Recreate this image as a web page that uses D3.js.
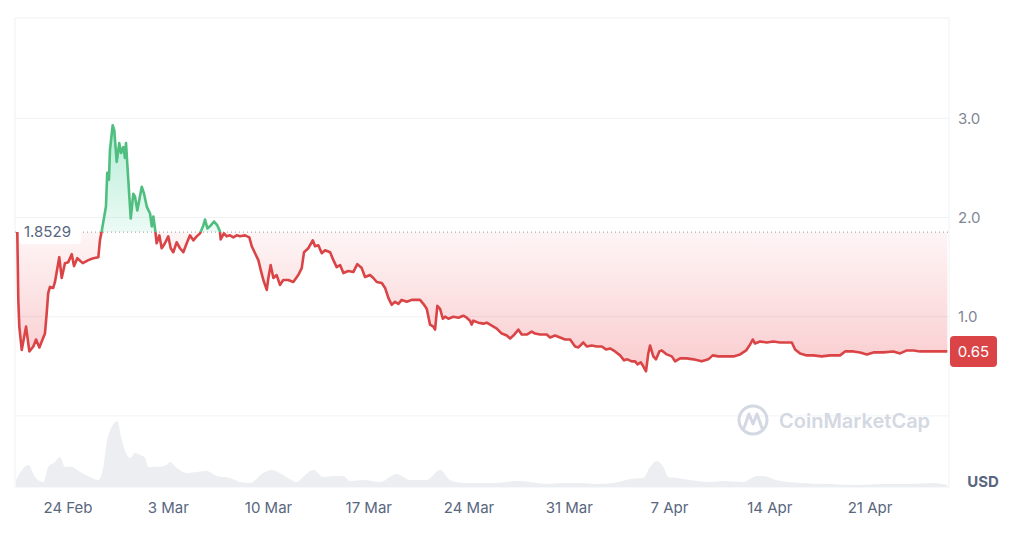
<!DOCTYPE html>
<html>
<head>
<meta charset="utf-8">
<script src="https://cdn.jsdelivr.net/npm/d3@7"></script>
<style>
  html, body { margin: 0; padding: 0; background: #ffffff; }
  svg { display: block; font-family: Inter, "Noto Sans", sans-serif; }
</style>
</head>
<body>
<svg id="chart" width="1024" height="542"></svg>
<script>
// ---- DATA (days since 2025-02-20 00:00 UTC, price in USD) ----
const priceDays = [0.46,0.53,0.60,0.77,1.07,1.30,1.58,1.77,2.00,2.39,2.51,2.62,2.74,2.97,3.09,3.39,3.56,3.79,4.02,4.26,4.42,4.65,5.03,5.42,5.77,6.12,6.23,6.35,6.65,6.74,6.86,6.93,7.12,7.23,7.40,7.58,7.70,7.86,7.98,8.05,8.21,8.38,8.56,8.68,8.84,8.98,9.15,9.31,9.50,9.73,9.85,9.96,10.10,10.19,10.38,10.54,10.77,11.00,11.17,11.35,11.59,11.82,12.05,12.29,12.52,12.75,12.99,13.22,13.45,13.57,13.73,13.97,14.20,14.43,14.61,14.66,14.89,15.08,15.31,15.54,15.78,16.01,16.36,16.66,16.83,17.06,17.29,17.46,17.64,17.88,17.99,18.15,18.34,18.57,18.80,19.03,19.38,19.73,20.08,20.32,20.48,20.78,21.09,21.25,21.48,21.72,21.95,22.30,22.53,22.76,23.00,23.23,23.57,23.92,24.20,24.51,24.74,25.09,25.32,25.56,25.91,26.14,26.37,26.60,26.84,27.07,27.30,27.65,28.00,28.35,28.58,28.81,29.05,29.28,29.51,29.63,29.79,29.98,30.17,30.33,30.56,30.91,31.26,31.60,31.84,32.07,32.19,32.30,32.65,33.00,33.24,33.59,33.94,34.29,34.64,34.87,35.10,35.45,35.68,36.03,36.38,36.61,36.96,37.43,37.66,38.01,38.36,38.71,39.06,39.41,39.64,39.98,40.22,40.57,40.92,41.27,41.57,41.85,42.20,42.55,42.83,43.06,43.36,43.60,43.76,43.99,44.17,44.36,44.52,44.64,44.87,45.06,45.29,45.46,45.81,46.16,46.39,46.74,47.21,47.67,48.25,48.71,49.02,49.41,50.00,50.46,50.93,51.35,51.63,51.81,51.97,52.32,52.79,53.25,53.72,54.19,54.54,54.77,55.12,55.59,56.05,56.63,57.21,57.91,58.26,58.84,59.31,59.78,60.24,60.93,61.63,62.10,62.57,63.03,63.50,63.97,64.43,64.89,65.40];
const prices = [1.853,1.17,0.90,0.665,0.90,0.65,0.70,0.77,0.69,0.83,1.03,1.24,1.30,1.29,1.35,1.60,1.39,1.54,1.55,1.63,1.51,1.59,1.54,1.57,1.59,1.60,1.77,1.86,2.11,2.45,2.38,2.68,2.93,2.88,2.56,2.75,2.65,2.71,2.60,2.75,2.38,1.99,2.24,2.21,2.07,2.18,2.31,2.24,2.11,2.04,1.91,2.01,1.86,1.74,1.82,1.69,1.74,1.81,1.69,1.65,1.75,1.69,1.65,1.74,1.82,1.77,1.81,1.84,1.92,1.98,1.89,1.92,1.96,1.92,1.86,1.78,1.84,1.81,1.82,1.80,1.82,1.81,1.82,1.80,1.71,1.64,1.57,1.47,1.37,1.27,1.39,1.52,1.39,1.42,1.32,1.37,1.37,1.35,1.42,1.49,1.65,1.69,1.77,1.71,1.72,1.64,1.67,1.65,1.57,1.50,1.52,1.44,1.46,1.45,1.53,1.49,1.40,1.42,1.39,1.35,1.34,1.29,1.19,1.12,1.15,1.13,1.17,1.15,1.17,1.17,1.17,1.13,1.08,0.92,0.90,0.87,1.11,1.08,0.98,1.00,0.98,1.00,0.99,1.01,0.99,0.96,0.92,0.96,0.94,0.93,0.94,0.91,0.88,0.83,0.81,0.78,0.81,0.87,0.82,0.82,0.85,0.83,0.82,0.82,0.79,0.81,0.79,0.77,0.77,0.70,0.69,0.74,0.70,0.71,0.70,0.70,0.67,0.68,0.65,0.61,0.56,0.57,0.55,0.55,0.52,0.54,0.50,0.45,0.63,0.71,0.60,0.57,0.65,0.66,0.62,0.60,0.55,0.58,0.58,0.57,0.55,0.57,0.61,0.60,0.60,0.60,0.62,0.66,0.72,0.77,0.73,0.75,0.74,0.75,0.74,0.74,0.74,0.67,0.63,0.61,0.61,0.60,0.61,0.61,0.65,0.65,0.64,0.62,0.64,0.64,0.65,0.63,0.66,0.66,0.65,0.65,0.65,0.65,0.65];

// Volume (millions USD, approximate)
const volumeDays = [0.37,1.23,1.70,2.28,2.62,3.09,3.44,3.79,4.26,4.84,5.54,6.12,6.47,6.70,7.05,7.44,7.75,8.05,8.33,8.68,9.03,9.38,9.61,10.19,10.89,11.12,11.59,12.29,12.99,13.69,14.38,15.31,16.01,16.71,17.64,18.23,19.03,19.97,20.55,21.13,21.83,22.53,23.23,23.69,24.62,25.79,26.95,27.88,29.05,29.98,30.68,31.60,32.77,33.94,35.33,36.26,37.43,38.59,39.75,40.92,42.08,43.25,44.17,44.64,45.11,45.57,45.92,46.53,47.92,48.83,49.79,51.14,52.09,52.53,53.44,55.12,57.14,59.31,60.82,62.66,64.47,65.38];
const volumes = [7,22,10,5,20,25,30,20,20,15,10,7,20,44,60,66,47,34,29,34,32,29,20,20,22,25,19,14,15,16,11,9,5,4,14,17,12,5,12,17,10,11,11,6,7,5,13,7,7,17,7,4,4,4,6,5,3,4,4,3,4,8,9,20,26,20,10,9,6,5,6,5,11,11,7,4,3,2,3,3,4,2];

const openPrice = 1.8529;
const lastPrice = 0.65;
const yTicks = [1, 2, 3];
const currency = "USD";
const watermark = "CoinMarketCap";

// ---- SETUP ----
const svg = d3.select("#chart");
const DAY = 86400000;
const t0 = Date.UTC(2025, 1, 20);
const toDate = d => new Date(t0 + d * DAY);

const frame = {left: 15, right: 949, top: 18, bottom: 487};

const x = d3.scaleUtc()
  .domain([new Date(Date.UTC(2025, 1, 24)), new Date(Date.UTC(2025, 3, 21))])
  .range([68, 870]);
const y = d3.scaleLinear().domain([0, 4]).range([415.9, 19.1]);
const yVol = d3.scaleLinear().domain([0, 70]).range([frame.bottom, frame.bottom - 70]);

const priceData = priceDays.map((d, i) => ({t: toDate(d), v: prices[i]}));
const volData = volumeDays.map((d, i) => ({t: toDate(d), v: volumes[i]}));

const RED = "#da4446";
const GREEN = "#4fbe7f";
const GRID = "#eff2f5";
const TEXT = "#58667e";

// defs
const defs = svg.append("defs");
const yBase = y(openPrice);
defs.append("clipPath").attr("id", "clipAbove")
  .append("rect").attr("x", 0).attr("y", 0).attr("width", 1024).attr("height", yBase);
defs.append("clipPath").attr("id", "clipBelow")
  .append("rect").attr("x", 0).attr("y", yBase).attr("width", 1024).attr("height", 542 - yBase);

const gRed = defs.append("linearGradient").attr("id", "gradRed")
  .attr("gradientUnits", "userSpaceOnUse")
  .attr("x1", 0).attr("x2", 0).attr("y1", yBase).attr("y2", y(d3.min(prices)));
gRed.append("stop").attr("offset", 0).attr("stop-color", "#ea3943").attr("stop-opacity", 0.05);
gRed.append("stop").attr("offset", 1).attr("stop-color", "#ea3943").attr("stop-opacity", 0.26);

const gGreen = defs.append("linearGradient").attr("id", "gradGreen")
  .attr("gradientUnits", "userSpaceOnUse")
  .attr("x1", 0).attr("x2", 0).attr("y1", y(d3.max(prices))).attr("y2", yBase);
gGreen.append("stop").attr("offset", 0).attr("stop-color", "#16c784").attr("stop-opacity", 0.32);
gGreen.append("stop").attr("offset", 1).attr("stop-color", "#16c784").attr("stop-opacity", 0.08);

// frame & grid
svg.append("rect")
  .attr("x", frame.left).attr("y", frame.top)
  .attr("width", frame.right - frame.left).attr("height", frame.bottom - frame.top)
  .attr("fill", "none").attr("stroke", GRID).attr("stroke-width", 1);

svg.append("g").selectAll("line").data([0].concat(yTicks)).join("line")
  .attr("x1", frame.left).attr("x2", frame.right)
  .attr("y1", d => y(d)).attr("y2", d => y(d))
  .attr("stroke", GRID).attr("stroke-width", 1);

// y labels
svg.append("g").selectAll("text").data(yTicks).join("text")
  .attr("x", 958).attr("y", d => y(d)).attr("dy", "0.35em")
  .attr("font-size", 15).attr("fill", "#7f8796")
  .text(d => d3.format(".1f")(d));

// volume
svg.append("path").datum(volData)
  .attr("d", d3.area().x(d => x(d.t)).y0(frame.bottom).y1(d => yVol(d.v)).curve(d3.curveMonotoneX))
  .attr("fill", "#eceef2");

// watermark
const wm = svg.append("g");
wm.append("circle").attr("cx", 753).attr("cy", 420).attr("r", 14)
  .attr("fill", "none").attr("stroke", "#d3d8e2").attr("stroke-width", 3);
wm.append("path").attr("d", "M744,428 L749,414 L753,424 L757,414 L762,428")
  .attr("fill", "none").attr("stroke", "#d3d8e2").attr("stroke-width", 3)
  .attr("stroke-linejoin", "round").attr("stroke-linecap", "round");
wm.append("text").attr("x", 779).attr("y", 428)
  .attr("font-size", 20).attr("font-weight", 600).attr("fill", "#d3d8e2")
  .text(watermark);

// price areas
const areaGen = d3.area().x(d => x(d.t)).y0(yBase).y1(d => y(d.v));
svg.append("path").datum(priceData).attr("d", areaGen)
  .attr("fill", "url(#gradGreen)").attr("clip-path", "url(#clipAbove)");
svg.append("path").datum(priceData).attr("d", areaGen)
  .attr("fill", "url(#gradRed)").attr("clip-path", "url(#clipBelow)");

// baseline dotted
svg.append("line")
  .attr("x1", frame.left).attr("x2", frame.right)
  .attr("y1", yBase).attr("y2", yBase)
  .attr("stroke", "#a6abb5").attr("stroke-width", 1.2).attr("stroke-dasharray", "1,3");

// price lines
const lineGen = d3.line().x(d => x(d.t)).y(d => y(d.v));
svg.append("path").datum(priceData).attr("d", lineGen)
  .attr("fill", "none").attr("stroke", GREEN).attr("stroke-width", 2.6)
  .attr("stroke-linejoin", "round").attr("clip-path", "url(#clipAbove)");
svg.append("path").datum(priceData).attr("d", lineGen)
  .attr("fill", "none").attr("stroke", RED).attr("stroke-width", 2.6)
  .attr("stroke-linejoin", "round").attr("clip-path", "url(#clipBelow)");

// open price label
const openG = svg.append("g");
openG.append("rect").attr("x", 19).attr("y", yBase - 12).attr("width", 62).attr("height", 24)
  .attr("rx", 4).attr("fill", "#ffffff");
openG.append("text").attr("x", 24).attr("y", yBase).attr("dy", "0.35em")
  .attr("font-size", 15).attr("fill", TEXT).text(d3.format(".4f")(openPrice));

// last price label
const lastG = svg.append("g");
lastG.append("rect").attr("x", 950).attr("y", y(lastPrice) - 15.5).attr("width", 47).attr("height", 31)
  .attr("rx", 4).attr("fill", RED);
lastG.append("text").attr("x", 973.5).attr("y", y(lastPrice)).attr("dy", "0.35em")
  .attr("text-anchor", "middle").attr("font-size", 15).attr("fill", "#ffffff")
  .text(d3.format(".2f")(lastPrice));

// x axis labels
const xTicks = x.ticks(d3.utcMonday.every(1));
svg.append("g").selectAll("text").data(xTicks).join("text")
  .attr("x", d => x(d)).attr("y", 508).attr("dy", "0.35em")
  .attr("text-anchor", "middle").attr("font-size", 15).attr("fill", TEXT)
  .text(d => d3.utcFormat("%-d %b")(d));

// currency
svg.append("text").attr("x", 983).attr("y", 482).attr("dy", "0.35em")
  .attr("text-anchor", "middle").attr("font-size", 15).attr("font-weight", 700).attr("fill", TEXT)
  .text(currency);
</script>
</body>
</html>
